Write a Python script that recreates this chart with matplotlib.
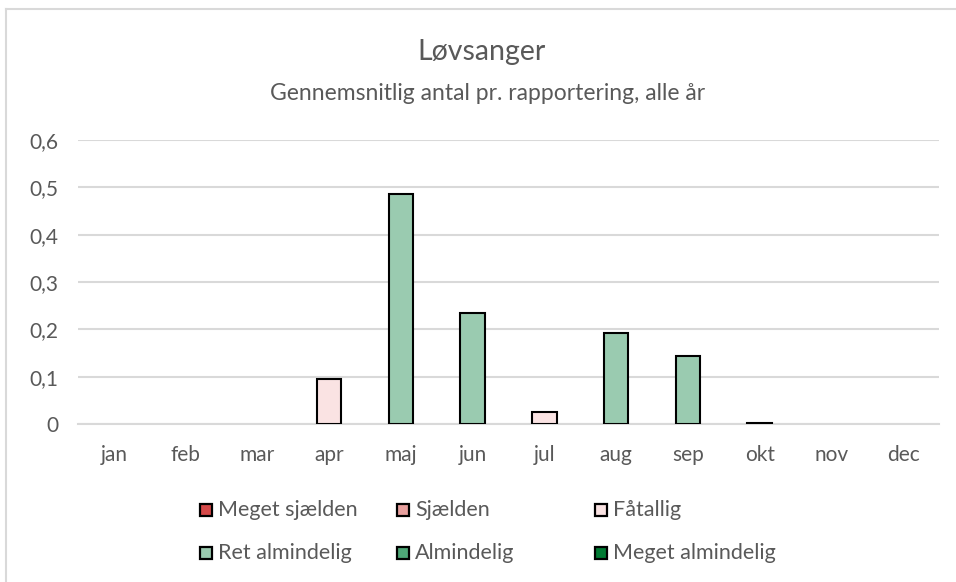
import matplotlib
matplotlib.use('Agg')
import matplotlib.pyplot as plt
from matplotlib.patches import Rectangle
from matplotlib.lines import Line2D

plt.rcParams['font.family'] = ['Lato', 'DejaVu Sans']

months = ['jan', 'feb', 'mar', 'apr', 'maj', 'jun', 'jul', 'aug', 'sep', 'okt', 'nov', 'dec']
values = [0, 0, 0, 0.095, 0.485, 0.235, 0.025, 0.193, 0.143, 0.003, 0, 0]
klasse = ['', '', '', 'Fåtallig', 'Ret almindelig', 'Ret almindelig', 'Fåtallig',
          'Ret almindelig', 'Ret almindelig', 'Fåtallig', '', '']

kategorier = ['Meget sjælden', 'Sjælden', 'Fåtallig',
              'Ret almindelig', 'Almindelig', 'Meget almindelig']
farver = {'Meget sjælden': '#d64a4a', 'Sjælden': '#e8a09e', 'Fåtallig': '#fae3e3',
          'Ret almindelig': '#9acbb0', 'Almindelig': '#4ea777', 'Meget almindelig': '#007a33'}

grey = '#595959'
fig = plt.figure(figsize=(9.56, 5.82), dpi=100)
ax = fig.add_axes([78 / 956, 1 - 424 / 582, (939 - 78) / 956, (424 - 140) / 582])

x = list(range(len(months)))
for i, (v, k) in enumerate(zip(values, klasse)):
    if v > 0:
        ax.bar(x[i], v, width=0.34, color=farver[k], edgecolor='black', linewidth=1.5, zorder=3)

ax.set_xlim(-0.5, 11.5)
ax.set_ylim(0, 0.6)
ax.set_yticks([0, 0.1, 0.2, 0.3, 0.4, 0.5, 0.6])
ax.set_yticklabels(['0', '0,1', '0,2', '0,3', '0,4', '0,5', '0,6'])
ax.set_xticks(x)
ax.set_xticklabels(months)
ax.tick_params(length=0, labelsize=15, colors=grey)
ax.tick_params(axis='x', pad=15)
ax.tick_params(axis='y', pad=14)
ax.yaxis.grid(True, color='#d9d9d9', linewidth=1.5, zorder=0)
for s in ax.spines.values():
    s.set_visible(False)
ax.spines['bottom'].set_visible(True)
ax.spines['bottom'].set_color('#d9d9d9')
ax.spines['bottom'].set_linewidth(1.5)

fig.text(482 / 956, 1 - 52 / 582, 'Løvsanger', ha='center', va='center', fontsize=20.5, color=grey)
fig.text(488 / 956, 1 - 93 / 582, 'Gennemsnitlig antal pr. rapportering, alle år',
         ha='center', va='center', fontsize=16.5, color=grey)

# legend laid out as two rows of three
kol_x = [200, 397, 595]
rad_y = [510, 553]
for n, k in enumerate(kategorier):
    px = kol_x[n % 3]
    py = rad_y[n // 3]
    fig.add_artist(Rectangle((px / 956, 1 - (py + 6) / 582), 12 / 956, 12 / 582,
                             facecolor=farver[k], edgecolor='black', linewidth=1.6,
                             transform=fig.transFigure))
    fig.text((px + 18) / 956, 1 - py / 582, k, ha='left', va='center', fontsize=15.5, color=grey)

# chart frame
fig.add_artist(Line2D([6 / 956, 6 / 956], [0, 1 - 9 / 582], color='#d9d9d9', linewidth=1.5))
fig.add_artist(Line2D([6 / 956, 1], [1 - 9 / 582, 1 - 9 / 582], color='#d9d9d9', linewidth=1.5))

fig.savefig('out.png', dpi=100)
